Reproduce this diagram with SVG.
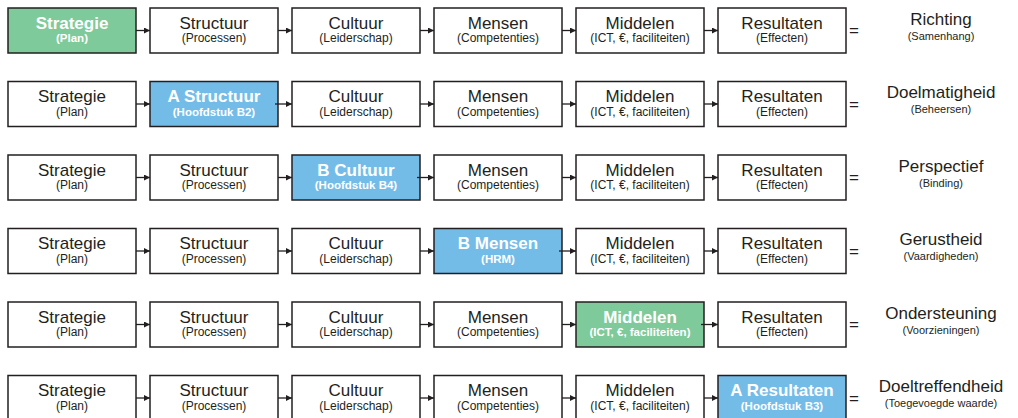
<svg xmlns="http://www.w3.org/2000/svg" width="1018" height="418" viewBox="0 0 1018 418">
  <style>
    .box { fill: #ffffff; stroke: #231f20; stroke-width: 1.5; }
    .green { fill: #7fca9a; }
    .blue { fill: #74bce8; }
    text { font-family: "Liberation Sans", Arial, sans-serif; text-anchor: middle; fill: #231f20; }
    .t { font-size: 17px; }
    .s { font-size: 12px; }
    .hl { fill: #ffffff; font-weight: bold; }
    .s.hl { font-size: 11.5px; }
    .rs { font-size: 11px; }
    .eq { font-size: 17px; }
    .conn line { stroke: #231f20; stroke-width: 1.3; marker-end: url(#arr); }
  </style>
  <defs>
    <marker id="arr" markerWidth="7" markerHeight="6" refX="6" refY="3" orient="auto" markerUnits="userSpaceOnUse">
      <path d="M0,0 L6,3 L0,6 Z" fill="#231f20"/>
    </marker>
  </defs>

  <!-- Row 1 -->
  <g id="r1-strategie"><rect class="box green" x="8" y="8" width="128" height="45"/><text class="t hl" x="72" y="28.5">Strategie</text><text class="s hl" x="72" y="42">(Plan)</text></g>
  <g id="r1-structuur"><rect class="box" x="150" y="8" width="128" height="45"/><text class="t" x="214" y="28.5">Structuur</text><text class="s" x="214" y="42">(Processen)</text></g>
  <g id="r1-cultuur"><rect class="box" x="292" y="8" width="128" height="45"/><text class="t" x="356" y="28.5">Cultuur</text><text class="s" x="356" y="42">(Leiderschap)</text></g>
  <g id="r1-mensen"><rect class="box" x="434" y="8" width="128" height="45"/><text class="t" x="498" y="28.5">Mensen</text><text class="s" x="498" y="42">(Competenties)</text></g>
  <g id="r1-middelen"><rect class="box" x="576" y="8" width="128" height="45"/><text class="t" x="640" y="28.5">Middelen</text><text class="s" x="640" y="42">(ICT, €, faciliteiten)</text></g>
  <g id="r1-resultaten"><rect class="box" x="718" y="8" width="128" height="45"/><text class="t" x="782" y="28.5">Resultaten</text><text class="s" x="782" y="42">(Effecten)</text></g>
  <g id="r1-uitkomst"><text class="eq" x="854" y="36">=</text><text class="t" x="941" y="25">Richting</text><text class="rs" x="941" y="40">(Samenhang)</text></g>

  <!-- Row 2 -->
  <g id="r2-strategie"><rect class="box" x="8" y="81.5" width="128" height="45"/><text class="t" x="72" y="102">Strategie</text><text class="s" x="72" y="115.5">(Plan)</text></g>
  <g id="r2-structuur"><rect class="box blue" x="150" y="81.5" width="128" height="45"/><text class="t hl" x="214" y="102">A Structuur</text><text class="s hl" x="214" y="115.5">(Hoofdstuk B2)</text></g>
  <g id="r2-cultuur"><rect class="box" x="292" y="81.5" width="128" height="45"/><text class="t" x="356" y="102">Cultuur</text><text class="s" x="356" y="115.5">(Leiderschap)</text></g>
  <g id="r2-mensen"><rect class="box" x="434" y="81.5" width="128" height="45"/><text class="t" x="498" y="102">Mensen</text><text class="s" x="498" y="115.5">(Competenties)</text></g>
  <g id="r2-middelen"><rect class="box" x="576" y="81.5" width="128" height="45"/><text class="t" x="640" y="102">Middelen</text><text class="s" x="640" y="115.5">(ICT, €, faciliteiten)</text></g>
  <g id="r2-resultaten"><rect class="box" x="718" y="81.5" width="128" height="45"/><text class="t" x="782" y="102">Resultaten</text><text class="s" x="782" y="115.5">(Effecten)</text></g>
  <g id="r2-uitkomst"><text class="eq" x="854" y="109.5">=</text><text class="t" x="941" y="98">Doelmatigheid</text><text class="rs" x="941" y="113">(Beheersen)</text></g>

  <!-- Row 3 -->
  <g id="r3-strategie"><rect class="box" x="8" y="155" width="128" height="45"/><text class="t" x="72" y="175.5">Strategie</text><text class="s" x="72" y="189">(Plan)</text></g>
  <g id="r3-structuur"><rect class="box" x="150" y="155" width="128" height="45"/><text class="t" x="214" y="175.5">Structuur</text><text class="s" x="214" y="189">(Processen)</text></g>
  <g id="r3-cultuur"><rect class="box blue" x="292" y="155" width="128" height="45"/><text class="t hl" x="356" y="175.5">B Cultuur</text><text class="s hl" x="356" y="189">(Hoofdstuk B4)</text></g>
  <g id="r3-mensen"><rect class="box" x="434" y="155" width="128" height="45"/><text class="t" x="498" y="175.5">Mensen</text><text class="s" x="498" y="189">(Competenties)</text></g>
  <g id="r3-middelen"><rect class="box" x="576" y="155" width="128" height="45"/><text class="t" x="640" y="175.5">Middelen</text><text class="s" x="640" y="189">(ICT, €, faciliteiten)</text></g>
  <g id="r3-resultaten"><rect class="box" x="718" y="155" width="128" height="45"/><text class="t" x="782" y="175.5">Resultaten</text><text class="s" x="782" y="189">(Effecten)</text></g>
  <g id="r3-uitkomst"><text class="eq" x="854" y="183">=</text><text class="t" x="941" y="171.5">Perspectief</text><text class="rs" x="941" y="186.5">(Binding)</text></g>

  <!-- Row 4 -->
  <g id="r4-strategie"><rect class="box" x="8" y="228.5" width="128" height="45"/><text class="t" x="72" y="249">Strategie</text><text class="s" x="72" y="262.5">(Plan)</text></g>
  <g id="r4-structuur"><rect class="box" x="150" y="228.5" width="128" height="45"/><text class="t" x="214" y="249">Structuur</text><text class="s" x="214" y="262.5">(Processen)</text></g>
  <g id="r4-cultuur"><rect class="box" x="292" y="228.5" width="128" height="45"/><text class="t" x="356" y="249">Cultuur</text><text class="s" x="356" y="262.5">(Leiderschap)</text></g>
  <g id="r4-mensen"><rect class="box blue" x="434" y="228.5" width="128" height="45"/><text class="t hl" x="498" y="249">B Mensen</text><text class="s hl" x="498" y="262.5">(HRM)</text></g>
  <g id="r4-middelen"><rect class="box" x="576" y="228.5" width="128" height="45"/><text class="t" x="640" y="249">Middelen</text><text class="s" x="640" y="262.5">(ICT, €, faciliteiten)</text></g>
  <g id="r4-resultaten"><rect class="box" x="718" y="228.5" width="128" height="45"/><text class="t" x="782" y="249">Resultaten</text><text class="s" x="782" y="262.5">(Effecten)</text></g>
  <g id="r4-uitkomst"><text class="eq" x="854" y="256.5">=</text><text class="t" x="941" y="245">Gerustheid</text><text class="rs" x="941" y="260">(Vaardigheden)</text></g>

  <!-- Row 5 -->
  <g id="r5-strategie"><rect class="box" x="8" y="302" width="128" height="45"/><text class="t" x="72" y="322.5">Strategie</text><text class="s" x="72" y="336">(Plan)</text></g>
  <g id="r5-structuur"><rect class="box" x="150" y="302" width="128" height="45"/><text class="t" x="214" y="322.5">Structuur</text><text class="s" x="214" y="336">(Processen)</text></g>
  <g id="r5-cultuur"><rect class="box" x="292" y="302" width="128" height="45"/><text class="t" x="356" y="322.5">Cultuur</text><text class="s" x="356" y="336">(Leiderschap)</text></g>
  <g id="r5-mensen"><rect class="box" x="434" y="302" width="128" height="45"/><text class="t" x="498" y="322.5">Mensen</text><text class="s" x="498" y="336">(Competenties)</text></g>
  <g id="r5-middelen"><rect class="box green" x="576" y="302" width="128" height="45"/><text class="t hl" x="640" y="322.5">Middelen</text><text class="s hl" x="640" y="336">(ICT, €, faciliteiten)</text></g>
  <g id="r5-resultaten"><rect class="box" x="718" y="302" width="128" height="45"/><text class="t" x="782" y="322.5">Resultaten</text><text class="s" x="782" y="336">(Effecten)</text></g>
  <g id="r5-uitkomst"><text class="eq" x="854" y="330">=</text><text class="t" x="941" y="318.5">Ondersteuning</text><text class="rs" x="941" y="333.5">(Voorzieningen)</text></g>

  <!-- Row 6 -->
  <g id="r6-strategie"><rect class="box" x="8" y="375.5" width="128" height="45"/><text class="t" x="72" y="396">Strategie</text><text class="s" x="72" y="409.5">(Plan)</text></g>
  <g id="r6-structuur"><rect class="box" x="150" y="375.5" width="128" height="45"/><text class="t" x="214" y="396">Structuur</text><text class="s" x="214" y="409.5">(Processen)</text></g>
  <g id="r6-cultuur"><rect class="box" x="292" y="375.5" width="128" height="45"/><text class="t" x="356" y="396">Cultuur</text><text class="s" x="356" y="409.5">(Leiderschap)</text></g>
  <g id="r6-mensen"><rect class="box" x="434" y="375.5" width="128" height="45"/><text class="t" x="498" y="396">Mensen</text><text class="s" x="498" y="409.5">(Competenties)</text></g>
  <g id="r6-middelen"><rect class="box" x="576" y="375.5" width="128" height="45"/><text class="t" x="640" y="396">Middelen</text><text class="s" x="640" y="409.5">(ICT, €, faciliteiten)</text></g>
  <g id="r6-resultaten"><rect class="box blue" x="718" y="375.5" width="128" height="45"/><text class="t hl" x="782" y="396">A Resultaten</text><text class="s hl" x="782" y="409.5">(Hoofdstuk B3)</text></g>
  <g id="r6-uitkomst"><text class="eq" x="854" y="403.5">=</text><text class="t" x="941" y="392">Doeltreffendheid</text><text class="rs" x="941" y="407">(Toegevoegde waarde)</text></g>

  <!-- Connectors between consecutive boxes in each row -->
  <g id="connectors" class="conn">
    <line x1="136" y1="30.5" x2="150" y2="30.5"/><line x1="278" y1="30.5" x2="292" y2="30.5"/><line x1="420" y1="30.5" x2="434" y2="30.5"/><line x1="562" y1="30.5" x2="576" y2="30.5"/><line x1="704" y1="30.5" x2="718" y2="30.5"/>
    <line x1="136" y1="104" x2="150" y2="104"/><line x1="275" y1="104" x2="292" y2="104"/><line x1="420" y1="104" x2="434" y2="104"/><line x1="562" y1="104" x2="576" y2="104"/><line x1="704" y1="104" x2="718" y2="104"/>
    <line x1="136" y1="177.5" x2="150" y2="177.5"/><line x1="278" y1="177.5" x2="292" y2="177.5"/><line x1="417" y1="177.5" x2="434" y2="177.5"/><line x1="562" y1="177.5" x2="576" y2="177.5"/><line x1="704" y1="177.5" x2="718" y2="177.5"/>
    <line x1="136" y1="251" x2="150" y2="251"/><line x1="278" y1="251" x2="292" y2="251"/><line x1="420" y1="251" x2="434" y2="251"/><line x1="559" y1="251" x2="576" y2="251"/><line x1="704" y1="251" x2="718" y2="251"/>
    <line x1="136" y1="324.5" x2="150" y2="324.5"/><line x1="278" y1="324.5" x2="292" y2="324.5"/><line x1="420" y1="324.5" x2="434" y2="324.5"/><line x1="562" y1="324.5" x2="576" y2="324.5"/><line x1="701" y1="324.5" x2="718" y2="324.5"/>
    <line x1="136" y1="398" x2="150" y2="398"/><line x1="278" y1="398" x2="292" y2="398"/><line x1="420" y1="398" x2="434" y2="398"/><line x1="562" y1="398" x2="576" y2="398"/><line x1="704" y1="398" x2="718" y2="398"/>
  </g>
</svg>
